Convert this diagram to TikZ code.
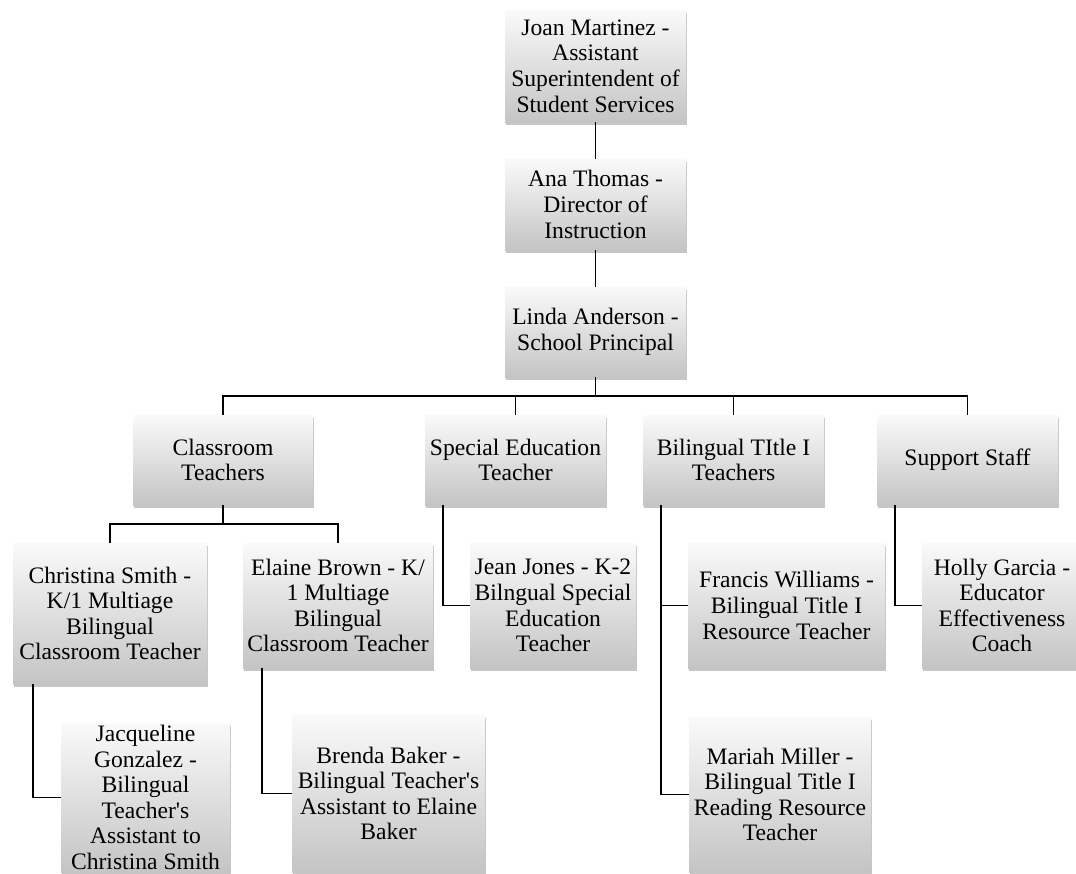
\documentclass[tikz,border=0pt]{standalone}
\usepackage{fontspec}
\setmainfont{Liberation Serif}
\usetikzlibrary{shadows}

\tikzset{
    orgbox/.style={rectangle, inner sep=0pt, align=center,
        top color=black!2, bottom color=black!23,
        drop shadow={shadow xshift=1pt, shadow yshift=-3pt, opacity=.45},
        font=\fontsize{23.6}{25.6}\selectfont},
    boxsize/.style 2 args={minimum width=#1pt, minimum height=#2pt},
    link/.style={line width=1.8pt, black},
}

\begin{document}
\begin{tikzpicture}[x=1pt, y=-1pt]
        \useasboundingbox (0,0) rectangle (1076,873);
        \clip (0,0) rectangle (1076,873);
        % top of the chart
        \node (jm) [orgbox, boxsize={181}{112}] at (595.5,66) {Joan Martinez -\\Assistant\\Superintendent of\\Student Services};
        \node (at) [orgbox, boxsize={181}{91}] at (595.5,204.5) {Ana Thomas -\\Director of\\Instruction};
        \node (la) [orgbox, boxsize={181}{90}] at (595.5,332) {Linda Anderson -\\School Principal};
        % groups
        \node (ct) [orgbox, boxsize={180}{90}] at (223,460) {Classroom\\Teachers};
        \node (se) [orgbox, boxsize={181}{90}] at (515.5,460) {Special Education\\Teacher};
        \node (bt) [orgbox, boxsize={181}{90}] at (733.5,460) {Bilingual TItle I\\Teachers};
        \node (ss) [orgbox, boxsize={181}{90}] at (967.5,460) {Support Staff};
        % staff
        \node (cs) [orgbox, boxsize={194}{141}] at (110,613.5) {Christina Smith -\\K/1 Multiage\\Bilingual\\Classroom Teacher};
        \node (eb) [orgbox, boxsize={190}{125}] at (338,605.5) {Elaine Brown - K/\\1 Multiage\\Bilingual\\Classroom Teacher};
        \node (jj) [orgbox, boxsize={166}{125}] at (553,605.5) {Jean Jones - K-2\\Bilngual Special\\Education\\Teacher};
        \node (fw) [orgbox, boxsize={197}{125}] at (786.5,605.5) {Francis Williams -\\Bilingual Title I\\Resource Teacher};
        \node (hg) [orgbox, boxsize={160}{125}] at (1002,605.5) {Holly Garcia -\\Educator\\Effectiveness\\Coach};
        \node (jg) [orgbox, boxsize={169}{149}] at (145.5,797.5) {Jacqueline\\Gonzalez -\\Bilingual\\Teacher\textquotesingle s\\Assistant to\\Christina Smith};
        \node (bb) [orgbox, boxsize={193}{157}] at (388.5,793.5) {Brenda Baker -\\Bilingual Teacher\textquotesingle s\\Assistant to Elaine\\Baker};
        \node (mm) [orgbox, boxsize={182}{155}] at (780,794.5) {Mariah Miller -\\Bilingual Title I\\Reading Resource\\Teacher};
        % connectors
        \coordinate (bus) at (0,396);
        \coordinate (sub) at (0,524);
        \draw [link] (jm.south) -- (at.north);
        \draw [link] (at.south) -- (la.north);
        \draw [link] (la.south) -- (la.south |- bus);
        \draw [link] (ct.north) -- (ct.north |- bus) -| (ss.north);
        \draw [link] (se.north) -- (se.north |- bus);
        \draw [link] (bt.north) -- (bt.north |- bus);
        \draw [link] (ct.south) -- (ct.south |- sub);
        \draw [link] (cs.north) -- (cs.north |- sub) -| (eb.north);
        \draw [link] ([xshift=20pt]cs.south west) |- (jg.west);
        \draw [link] ([xshift=19pt]eb.south west) |- (bb.west);
        \draw [link] ([xshift=18pt]se.south west) |- (jj.west);
        \draw [link] ([xshift=18pt]bt.south west) |- (fw.west);
        \draw [link] ([xshift=18pt]bt.south west) |- (mm.west);
        \draw [link] ([xshift=18pt]ss.south west) |- (hg.west);
\end{tikzpicture}
\end{document}
